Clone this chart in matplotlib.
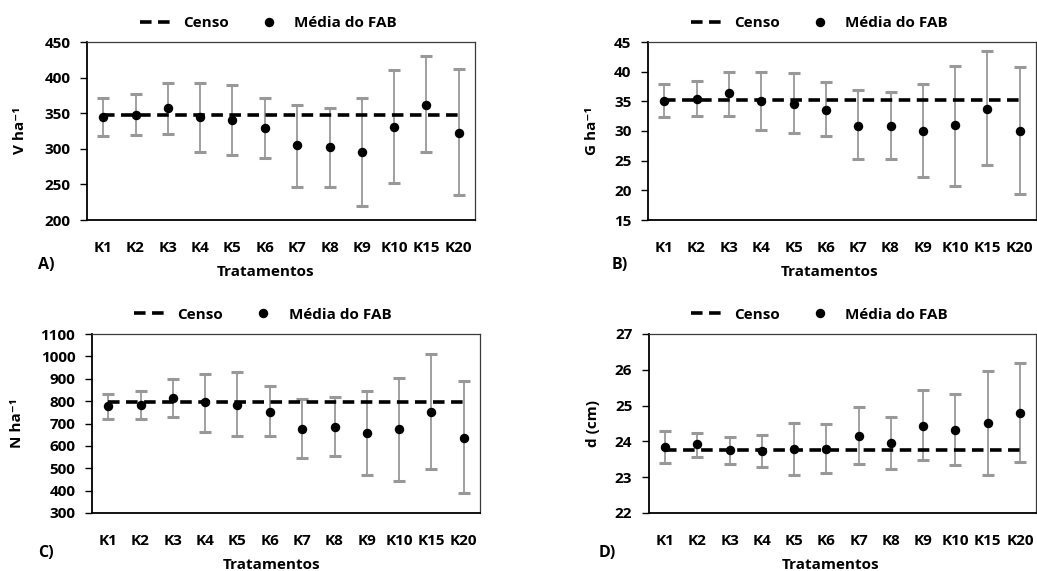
import matplotlib
matplotlib.use("Agg")
import matplotlib.pyplot as plt
import numpy as np
from matplotlib.lines import Line2D

plt.rcParams['font.family'] = ['Open Sans', 'DejaVu Sans']
plt.rcParams['font.weight'] = 'bold'

categories = ["K1", "K2", "K3", "K4", "K5", "K6", "K7", "K8", "K9", "K10", "K15", "K20"]

# Panel A: V ha-1
v_mean = [345, 348, 357, 344, 340, 329, 305, 302, 296, 331, 362, 322]
v_up = [372, 377, 392, 392, 389, 372, 361, 357, 372, 410, 430, 412]
v_low = [318, 319, 321, 295, 291, 287, 247, 246, 219, 252, 295, 235]
v_censo = 348

# Panel B: G ha-1
g_mean = [35.1, 35.4, 36.4, 35.1, 34.6, 33.6, 30.9, 30.8, 30.0, 31.0, 33.7, 30.0]
g_up = [38.0, 38.4, 40.0, 40.0, 39.7, 38.2, 36.9, 36.5, 38.0, 41.0, 43.5, 40.8]
g_low = [32.4, 32.6, 32.6, 30.2, 29.6, 29.1, 25.2, 25.2, 22.3, 20.8, 24.2, 19.3]
g_censo = 35.2

# Panel C: N ha-1
n_mean = [776, 783, 813, 794, 783, 750, 675, 686, 656, 675, 750, 636]
n_up = [832, 844, 898, 922, 931, 868, 808, 817, 844, 903, 1010, 889]
n_low = [719, 719, 728, 662, 642, 642, 544, 553, 472, 445, 496, 391]
n_censo = 795

# Panel D: d (cm)
d_mean = [23.85, 23.92, 23.76, 23.73, 23.78, 23.78, 24.16, 23.95, 24.44, 24.32, 24.51, 24.79]
d_up = [24.29, 24.23, 24.11, 24.17, 24.52, 24.48, 24.95, 24.68, 25.43, 25.32, 25.96, 26.19]
d_low = [23.41, 23.57, 23.37, 23.28, 23.07, 23.13, 23.36, 23.22, 23.48, 23.34, 23.07, 23.42]
d_censo = 23.77

W, H = 1037, 571
fig = plt.figure(figsize=(W / 100, H / 100), dpi=100)

panels = [
    dict(rect=(87, 42, 388, 178), mean=v_mean, up=v_up, low=v_low, censo=v_censo,
         ylim=(200, 450), step=50, ylabel="V ha⁻¹", ylab_x=-0.173, leg_x=0.468,
         xlab_x=0.461, tag="A)", tag_xy=(46, 265)),
    dict(rect=(648, 42, 388, 178), mean=g_mean, up=g_up, low=g_low, censo=g_censo,
         ylim=(15, 45), step=5, ylabel="G ha⁻¹", ylab_x=-0.144, leg_x=0.442,
         xlab_x=0.469, tag="B)", tag_xy=(620, 265)),
    dict(rect=(92, 334, 388, 179), mean=n_mean, up=n_up, low=n_low, censo=n_censo,
         ylim=(300, 1100), step=100, ylabel="N ha⁻¹", ylab_x=-0.193, leg_x=0.44,
         xlab_x=0.464, tag="C)", tag_xy=(46, 553)),
    dict(rect=(649, 334, 387, 179), mean=d_mean, up=d_up, low=d_low, censo=d_censo,
         ylim=(22, 27), step=1, ylabel="d (cm)", ylab_x=-0.145, leg_x=0.44,
         xlab_x=0.468, tag="D)", tag_xy=(607, 553)),
]

fs = 11
x = np.arange(len(categories))

for p in panels:
    l, t, w, h = p["rect"]
    ax = fig.add_axes([l / W, 1 - (t + h) / H, w / W, h / H])
    mean = np.array(p["mean"], dtype=float)
    up = np.array(p["up"], dtype=float)
    low = np.array(p["low"], dtype=float)
    ax.errorbar(x, mean, yerr=[mean - low, up - mean], fmt='none',
                ecolor='#989898', elinewidth=1.3, capsize=4.3, capthick=2.2, zorder=2)
    ax.plot([x[0], x[-1]], [p["censo"], p["censo"]], color='black', lw=2.6,
            dashes=(3.2, 1.8), zorder=3)
    ax.plot(x, mean, 'o', color='black', ms=5.8, zorder=4)

    ax.set_xlim(-0.5, len(categories) - 0.5)
    ax.set_ylim(*p["ylim"])
    ax.set_yticks(np.arange(p["ylim"][0], p["ylim"][1] + p["step"] / 2, p["step"]))
    ax.set_xticks(x)
    ax.set_xticklabels(categories)
    ax.tick_params(axis='x', length=0, pad=15, labelsize=fs)
    ax.tick_params(axis='y', length=5, width=1, pad=7, labelsize=fs, direction='out')
    for lab in ax.get_xticklabels() + ax.get_yticklabels():
        lab.set_fontweight('bold')

    for s in ('left', 'bottom'):
        ax.spines[s].set_color('black')
        ax.spines[s].set_linewidth(1.3)
    for s in ('top', 'right'):
        ax.spines[s].set_color('#3a3a3a')
        ax.spines[s].set_linewidth(0.9)

    ax.set_ylabel(p["ylabel"], fontsize=fs, fontweight='bold')
    ax.yaxis.set_label_coords(p["ylab_x"], 0.5)
    ax.yaxis.label.set_va('center')
    ax.set_xlabel("Tratamentos", fontsize=fs, fontweight='bold')
    ax.xaxis.set_label_coords(p["xlab_x"], -0.29)
    ax.xaxis.label.set_va('center')

    handles = [
        Line2D([], [], color='black', lw=2.6, dashes=(3.2, 1.8)),
        Line2D([], [], color='black', marker='o', ls='none', ms=5.8),
    ]
    ax.legend(handles, ["Censo", "Média do FAB"], ncol=2, loc='center',
              bbox_to_anchor=(p["leg_x"], 1.107), frameon=False,
              prop=dict(size=fs, weight='bold'), handlelength=2.3,
              handletextpad=0.5, columnspacing=1.5, borderaxespad=0)

    fig.text(p["tag_xy"][0] / W, 1 - p["tag_xy"][1] / H, p["tag"], fontsize=fs + 0.5,
             fontweight='bold', ha='center', va='center')

fig.savefig("out.png", dpi=100, facecolor='white')
